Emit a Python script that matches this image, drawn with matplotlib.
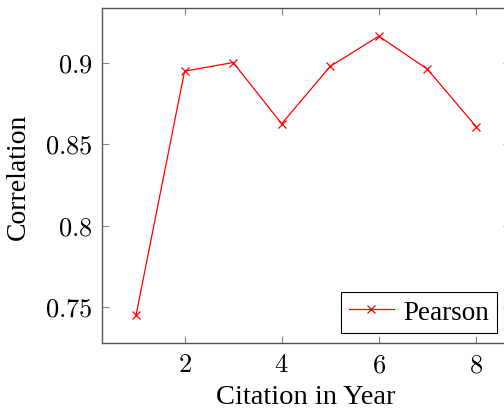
import matplotlib
matplotlib.use("Agg")
import matplotlib.pyplot as plt
from matplotlib.ticker import FixedLocator, FuncFormatter

plt.rcParams['mathtext.fontset'] = 'cm'
plt.rcParams['font.family'] = ['Liberation Serif', 'DejaVu Serif']

years = [1, 2, 3, 4, 5, 6, 7, 8]
pearson = [0.745, 0.895, 0.9003, 0.8627, 0.898, 0.9165, 0.8962, 0.8610]
xticks = [2, 4, 6, 8]
yticks = [0.75, 0.8, 0.85, 0.9]

fig = plt.figure(figsize=(5.04, 4.10), dpi=100)
ax = fig.add_axes([102/504, 66/410, 408/504, 335/410])
ax.plot(years, pearson, color='red', lw=0.9, marker='x', markersize=5.5, mew=0.9, label='Pearson')
ax.set_xlim(0.3, 8.7)
ax.set_ylim(0.728, 0.9338)
ax.xaxis.set_major_locator(FixedLocator(xticks))
ax.yaxis.set_major_locator(FixedLocator(yticks))
ax.xaxis.set_major_formatter(FuncFormatter(lambda v, p: r'$%g$' % v))
ax.yaxis.set_major_formatter(FuncFormatter(lambda v, p: r'$%g$' % v))
ax.tick_params(direction='in', length=5, width=0.8, color='#888888', labelsize=19,
               top=True, right=True)
ax.tick_params(axis='x', pad=8)
ax.tick_params(axis='y', pad=7)
for s in ax.spines.values():
    s.set_color('#555555')
    s.set_linewidth(1.0)
ax.set_xlabel('Citation in Year', fontsize=20.5, labelpad=6)
ax.set_ylabel('Correlation', fontsize=20, labelpad=10)
leg = ax.legend(loc='lower right', bbox_to_anchor=(0.968, 0.03), fontsize=19.5,
                fancybox=False, edgecolor='black', framealpha=1, handlelength=1.65,
                borderpad=0.3, handletextpad=0.35, borderaxespad=0.0)
leg.get_frame().set_linewidth(0.8)
fig.savefig('out.png', dpi=100)
